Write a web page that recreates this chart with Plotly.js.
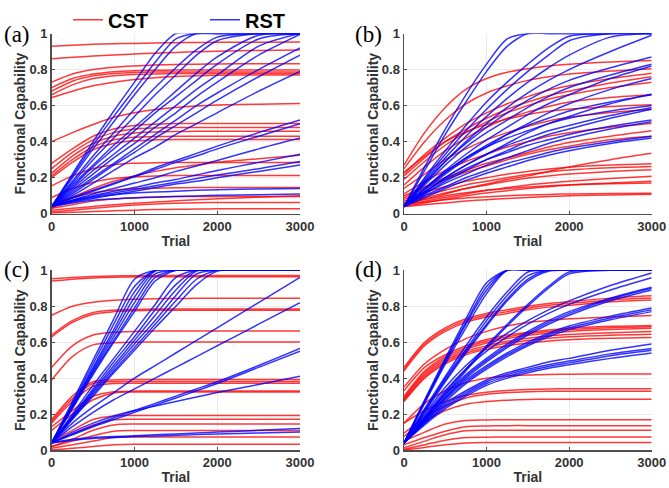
<!DOCTYPE html>
<html><head><meta charset="utf-8">
<script src="https://cdn.plot.ly/plotly-3.0.1.min.js"></script>
<style>html,body{margin:0;padding:0;background:#fff}#plot{width:669px;height:488px}</style>
</head><body><div id="plot"></div>
<script>
// Trial sample positions (shared by all curves)
var trials = [0,250,500,750,1000,1250,1500,1750,2000,2500,3000];
var xTickVals = [0,1000,2000,3000];
var xTickText = ['0','1000','2000','3000'];
var yTickVals = [0,0.2,0.4,0.6,0.8,1];
var yTickText = ['0','0.2','0.4','0.6','0.8','1'];
var panelLabels = ['(a)','(b)','(c)','(d)'];
var seriesNames = ['CST','RST'];

// Panel (a)
var aCST = [
[0.93,0.935,0.94,0.943,0.945,0.947,0.949,0.95,0.951,0.952,0.953],
[0.86,0.868,0.875,0.881,0.886,0.891,0.895,0.899,0.902,0.906,0.908],
[0.73,0.775,0.80,0.813,0.82,0.825,0.828,0.83,0.831,0.832,0.832],
[0.70,0.75,0.775,0.788,0.794,0.796,0.797,0.797,0.797,0.797,0.797],
[0.68,0.735,0.765,0.778,0.784,0.786,0.787,0.787,0.787,0.787,0.787],
[0.66,0.715,0.75,0.766,0.773,0.776,0.778,0.778,0.778,0.778,0.778],
[0.645,0.68,0.71,0.73,0.745,0.755,0.762,0.766,0.768,0.77,0.77],
[0.40,0.45,0.495,0.535,0.56,0.578,0.59,0.598,0.603,0.608,0.611],
[0.28,0.36,0.43,0.47,0.49,0.497,0.50,0.50,0.50,0.501,0.501],
[0.25,0.34,0.41,0.45,0.47,0.476,0.478,0.479,0.479,0.479,0.479],
[0.225,0.32,0.39,0.43,0.448,0.454,0.456,0.457,0.457,0.457,0.457],
[0.21,0.30,0.37,0.41,0.425,0.428,0.43,0.43,0.43,0.43,0.43],
[0.20,0.285,0.355,0.39,0.405,0.41,0.412,0.412,0.412,0.412,0.412],
[0.155,0.21,0.25,0.272,0.28,0.283,0.284,0.284,0.284,0.284,0.284],
[0.09,0.14,0.175,0.195,0.205,0.21,0.212,0.212,0.212,0.212,0.212],
[0.05,0.09,0.115,0.13,0.138,0.142,0.144,0.145,0.145,0.145,0.145],
[0.03,0.09,0.14,0.18,0.21,0.235,0.255,0.27,0.285,0.305,0.325],
[0.03,0.05,0.07,0.082,0.089,0.093,0.095,0.096,0.096,0.096,0.096],
[0.02,0.03,0.04,0.05,0.058,0.065,0.072,0.078,0.083,0.092,0.1],
[0.01,0.02,0.03,0.04,0.048,0.054,0.058,0.061,0.062,0.063,0.063],
[0.004,0.008,0.012,0.016,0.02,0.023,0.025,0.026,0.027,0.027,0.027]
];
var aRST = [
[0.04,0.22,0.40,0.57,0.73,0.89,1,1,1,1,1],
[0.04,0.21,0.38,0.54,0.69,0.84,0.97,1,1,1,1],
[0.04,0.20,0.36,0.51,0.66,0.80,0.93,1,1,1,1],
[0.04,0.18,0.32,0.45,0.58,0.70,0.81,0.91,0.98,1,1],
[0.04,0.17,0.30,0.42,0.54,0.66,0.77,0.88,0.96,1,1],
[0.04,0.16,0.27,0.38,0.48,0.58,0.68,0.78,0.87,0.99,1],
[0.04,0.15,0.26,0.36,0.46,0.56,0.65,0.74,0.83,0.97,1],
[0.04,0.14,0.24,0.33,0.42,0.51,0.60,0.69,0.77,0.93,1],
[0.04,0.13,0.22,0.31,0.39,0.48,0.56,0.65,0.73,0.88,0.995],
[0.04,0.12,0.20,0.28,0.36,0.44,0.52,0.60,0.67,0.80,0.92],
[0.04,0.11,0.19,0.27,0.34,0.42,0.49,0.56,0.63,0.76,0.88],
[0.04,0.10,0.17,0.24,0.31,0.37,0.44,0.50,0.56,0.68,0.79],
[0.04,0.09,0.13,0.17,0.21,0.255,0.295,0.335,0.375,0.45,0.52],
[0.04,0.085,0.125,0.165,0.205,0.245,0.285,0.32,0.36,0.43,0.50],
[0.04,0.075,0.11,0.14,0.17,0.20,0.235,0.265,0.295,0.36,0.42],
[0.04,0.075,0.10,0.125,0.145,0.17,0.19,0.215,0.24,0.285,0.33],
[0.04,0.07,0.095,0.115,0.135,0.155,0.175,0.195,0.215,0.25,0.29],
[0.04,0.065,0.085,0.105,0.125,0.145,0.165,0.18,0.20,0.235,0.27],
[0.04,0.07,0.09,0.105,0.115,0.12,0.125,0.13,0.133,0.137,0.14],
[0.04,0.06,0.075,0.083,0.088,0.092,0.096,0.099,0.102,0.106,0.11]
];

// Panel (b)
var bCST = [
[0.27,0.45,0.59,0.69,0.75,0.785,0.805,0.82,0.83,0.842,0.85],
[0.25,0.40,0.52,0.61,0.67,0.71,0.74,0.76,0.775,0.792,0.805],
[0.22,0.33,0.42,0.50,0.56,0.61,0.65,0.685,0.71,0.75,0.78],
[0.21,0.31,0.40,0.47,0.53,0.58,0.62,0.655,0.68,0.725,0.76],
[0.19,0.29,0.38,0.45,0.51,0.56,0.60,0.635,0.66,0.70,0.73],
[0.16,0.26,0.35,0.42,0.48,0.53,0.565,0.595,0.62,0.645,0.66],
[0.23,0.32,0.40,0.455,0.495,0.525,0.55,0.568,0.58,0.595,0.605],
[0.14,0.22,0.30,0.36,0.41,0.45,0.485,0.515,0.535,0.562,0.58],
[0.11,0.18,0.24,0.29,0.33,0.37,0.40,0.43,0.45,0.48,0.50],
[0.10,0.15,0.20,0.24,0.28,0.31,0.34,0.37,0.395,0.43,0.46],
[0.09,0.14,0.19,0.23,0.265,0.30,0.33,0.355,0.375,0.41,0.43],
[0.07,0.09,0.115,0.14,0.165,0.19,0.21,0.235,0.26,0.30,0.335],
[0.08,0.12,0.15,0.18,0.20,0.22,0.235,0.248,0.258,0.27,0.277],
[0.06,0.10,0.13,0.16,0.18,0.20,0.218,0.232,0.243,0.255,0.262],
[0.05,0.08,0.11,0.14,0.16,0.18,0.198,0.21,0.22,0.235,0.244],
[0.05,0.07,0.09,0.11,0.13,0.145,0.16,0.17,0.18,0.195,0.208],
[0.04,0.06,0.08,0.10,0.115,0.128,0.14,0.15,0.16,0.17,0.18],
[0.06,0.08,0.10,0.117,0.13,0.14,0.148,0.155,0.16,0.166,0.17],
[0.05,0.065,0.077,0.087,0.094,0.1,0.104,0.107,0.11,0.112,0.114],
[0.04,0.05,0.06,0.07,0.078,0.085,0.09,0.095,0.1,0.104,0.108]
];
var bRST = [
[0.04,0.26,0.47,0.66,0.83,0.97,1,1,1,1,1],
[0.04,0.24,0.44,0.62,0.79,0.93,1,1,1,1,1],
[0.04,0.20,0.35,0.49,0.62,0.73,0.83,0.92,0.985,1,1],
[0.04,0.19,0.33,0.46,0.58,0.69,0.79,0.88,0.96,1,1],
[0.04,0.18,0.31,0.43,0.54,0.64,0.73,0.81,0.88,0.98,1],
[0.04,0.17,0.29,0.40,0.50,0.59,0.67,0.74,0.80,0.90,0.99],
[0.04,0.17,0.29,0.39,0.48,0.56,0.63,0.69,0.74,0.81,0.87],
[0.04,0.16,0.27,0.37,0.45,0.52,0.59,0.65,0.70,0.77,0.83],
[0.04,0.14,0.24,0.33,0.41,0.48,0.55,0.61,0.66,0.75,0.82],
[0.04,0.13,0.22,0.30,0.37,0.44,0.50,0.56,0.61,0.69,0.75],
[0.04,0.14,0.23,0.31,0.38,0.44,0.49,0.53,0.57,0.62,0.66],
[0.04,0.12,0.20,0.27,0.33,0.39,0.45,0.50,0.54,0.61,0.665],
[0.04,0.14,0.23,0.31,0.37,0.42,0.46,0.50,0.53,0.57,0.60],
[0.04,0.12,0.20,0.27,0.33,0.38,0.42,0.46,0.49,0.545,0.59],
[0.04,0.11,0.18,0.24,0.30,0.35,0.40,0.44,0.47,0.53,0.58],
[0.04,0.12,0.19,0.25,0.30,0.34,0.38,0.41,0.44,0.485,0.52],
[0.04,0.11,0.17,0.22,0.27,0.31,0.35,0.39,0.42,0.47,0.51],
[0.04,0.10,0.15,0.20,0.24,0.28,0.31,0.34,0.365,0.40,0.43],
[0.04,0.09,0.14,0.185,0.225,0.26,0.295,0.325,0.35,0.39,0.42]
];

// Panel (c)
var cCST = [
[0.953,0.96,0.965,0.968,0.97,0.971,0.971,0.971,0.971,0.971,0.971],
[0.94,0.95,0.957,0.961,0.963,0.964,0.964,0.964,0.964,0.964,0.964],
[0.75,0.80,0.822,0.833,0.839,0.842,0.843,0.844,0.844,0.844,0.844],
[0.64,0.72,0.765,0.778,0.782,0.784,0.784,0.784,0.784,0.784,0.784],
[0.63,0.71,0.755,0.77,0.775,0.777,0.777,0.777,0.777,0.777,0.777],
[0.46,0.58,0.64,0.655,0.66,0.662,0.662,0.662,0.662,0.662,0.662],
[0.39,0.52,0.585,0.597,0.60,0.601,0.601,0.601,0.601,0.601,0.601],
[0.17,0.30,0.38,0.39,0.392,0.392,0.392,0.392,0.392,0.392,0.392],
[0.16,0.285,0.37,0.38,0.381,0.381,0.381,0.381,0.381,0.381,0.381],
[0.15,0.27,0.355,0.37,0.372,0.372,0.372,0.372,0.372,0.372,0.372],
[0.13,0.22,0.30,0.325,0.328,0.328,0.328,0.328,0.328,0.328,0.328],
[0.11,0.20,0.28,0.318,0.323,0.323,0.323,0.323,0.323,0.323,0.323],
[0.05,0.11,0.17,0.19,0.192,0.192,0.192,0.192,0.192,0.192,0.192],
[0.04,0.09,0.14,0.168,0.172,0.172,0.172,0.172,0.172,0.172,0.172],
[0.02,0.06,0.11,0.14,0.145,0.145,0.145,0.145,0.145,0.145,0.145],
[0.02,0.05,0.08,0.105,0.109,0.109,0.109,0.109,0.109,0.109,0.109],
[0.01,0.03,0.05,0.07,0.073,0.073,0.073,0.073,0.073,0.073,0.073],
[0.0,0.01,0.02,0.03,0.033,0.033,0.033,0.033,0.033,0.033,0.033]
];
var cRST = [
[0.04,0.27,0.50,0.73,0.95,1,1,1,1,1,1],
[0.04,0.26,0.48,0.70,0.91,1,1,1,1,1,1],
[0.04,0.25,0.46,0.67,0.88,1,1,1,1,1,1],
[0.04,0.245,0.45,0.65,0.85,0.995,1,1,1,1,1],
[0.04,0.24,0.44,0.63,0.82,0.98,1,1,1,1,1],
[0.04,0.235,0.43,0.61,0.79,0.96,1,1,1,1,1],
[0.04,0.23,0.42,0.60,0.77,0.94,1,1,1,1,1],
[0.04,0.20,0.36,0.51,0.66,0.81,0.96,1,1,1,1],
[0.04,0.19,0.34,0.49,0.63,0.78,0.92,1,1,1,1],
[0.04,0.185,0.33,0.47,0.61,0.75,0.89,0.995,1,1,1],
[0.04,0.18,0.32,0.455,0.59,0.72,0.86,0.98,1,1,1],
[0.04,0.175,0.31,0.44,0.57,0.70,0.83,0.95,1,1,1],
[0.04,0.17,0.30,0.43,0.555,0.68,0.80,0.92,0.995,1,1],
[0.04,0.15,0.24,0.32,0.40,0.47,0.54,0.61,0.68,0.82,0.96],
[0.04,0.13,0.21,0.28,0.34,0.40,0.46,0.52,0.58,0.70,0.82],
[0.04,0.09,0.135,0.18,0.22,0.26,0.30,0.34,0.38,0.47,0.565],
[0.04,0.085,0.13,0.17,0.21,0.25,0.29,0.33,0.37,0.46,0.55],
[0.04,0.10,0.15,0.19,0.22,0.245,0.27,0.295,0.32,0.365,0.41],
[0.04,0.06,0.07,0.075,0.08,0.085,0.09,0.095,0.10,0.11,0.12],
[0.04,0.055,0.065,0.07,0.075,0.078,0.082,0.086,0.09,0.095,0.10]
];

// Panel (d)
var dCST = [
[0.46,0.60,0.68,0.73,0.76,0.78,0.80,0.815,0.825,0.845,0.858],
[0.45,0.59,0.67,0.72,0.75,0.77,0.79,0.805,0.815,0.835,0.846],
[0.44,0.58,0.66,0.71,0.74,0.76,0.78,0.795,0.805,0.825,0.835],
[0.35,0.48,0.56,0.62,0.66,0.69,0.71,0.72,0.73,0.74,0.748],
[0.33,0.46,0.53,0.58,0.615,0.64,0.655,0.668,0.678,0.688,0.693],
[0.30,0.44,0.52,0.57,0.605,0.63,0.648,0.66,0.67,0.68,0.686],
[0.29,0.43,0.51,0.56,0.595,0.62,0.638,0.65,0.66,0.67,0.677],
[0.285,0.42,0.50,0.55,0.58,0.605,0.622,0.635,0.643,0.653,0.659],
[0.276,0.41,0.49,0.54,0.57,0.595,0.61,0.622,0.63,0.639,0.644],
[0.27,0.40,0.48,0.53,0.56,0.58,0.595,0.607,0.614,0.622,0.626],
[0.15,0.26,0.33,0.375,0.40,0.412,0.418,0.421,0.422,0.423,0.423],
[0.15,0.22,0.27,0.305,0.322,0.332,0.337,0.34,0.341,0.341,0.341],
[0.094,0.18,0.245,0.29,0.31,0.32,0.325,0.327,0.327,0.327,0.327],
[0.076,0.16,0.22,0.255,0.27,0.277,0.281,0.283,0.283,0.283,0.283],
[0.05,0.10,0.145,0.165,0.168,0.169,0.169,0.169,0.169,0.169,0.169],
[0.03,0.07,0.105,0.13,0.134,0.136,0.136,0.136,0.136,0.136,0.136],
[0.013,0.05,0.085,0.107,0.11,0.111,0.111,0.111,0.111,0.111,0.111],
[0.004,0.03,0.055,0.07,0.072,0.073,0.073,0.073,0.073,0.073,0.073],
[0.0,0.015,0.03,0.04,0.042,0.042,0.042,0.042,0.042,0.042,0.042]
];
var dRST = [
[0.04,0.28,0.51,0.73,0.93,1,1,1,1,1,1],
[0.04,0.27,0.50,0.71,0.91,1,1,1,1,1,1],
[0.04,0.27,0.49,0.70,0.89,1,1,1,1,1,1],
[0.04,0.26,0.48,0.68,0.87,1,1,1,1,1,1],
[0.04,0.23,0.41,0.58,0.74,0.88,0.99,1,1,1,1],
[0.04,0.22,0.40,0.56,0.72,0.86,0.97,1,1,1,1],
[0.04,0.22,0.39,0.55,0.70,0.84,0.95,1,1,1,1],
[0.04,0.21,0.38,0.54,0.69,0.83,0.94,0.995,1,1,1],
[0.04,0.18,0.32,0.45,0.58,0.70,0.81,0.91,0.99,1,1],
[0.04,0.18,0.31,0.44,0.57,0.69,0.80,0.90,0.98,1,1],
[0.04,0.20,0.35,0.47,0.57,0.65,0.72,0.78,0.83,0.915,0.985],
[0.04,0.19,0.33,0.45,0.55,0.63,0.70,0.76,0.81,0.89,0.958],
[0.04,0.18,0.31,0.42,0.51,0.59,0.66,0.72,0.77,0.845,0.905],
[0.04,0.17,0.30,0.41,0.50,0.58,0.65,0.71,0.76,0.84,0.90],
[0.04,0.17,0.29,0.40,0.49,0.57,0.64,0.70,0.75,0.83,0.89],
[0.04,0.17,0.29,0.39,0.47,0.54,0.60,0.65,0.69,0.745,0.79],
[0.04,0.16,0.28,0.38,0.46,0.53,0.59,0.64,0.68,0.735,0.78],
[0.04,0.16,0.27,0.37,0.45,0.52,0.58,0.63,0.67,0.725,0.77],
[0.04,0.16,0.26,0.33,0.39,0.43,0.46,0.49,0.51,0.555,0.59],
[0.04,0.15,0.25,0.32,0.38,0.42,0.45,0.475,0.495,0.535,0.565],
[0.04,0.15,0.24,0.31,0.37,0.41,0.44,0.465,0.485,0.525,0.555],
[0.04,0.14,0.23,0.30,0.36,0.40,0.43,0.455,0.475,0.51,0.54]
];

var panels = [
  {cst:aCST, rst:aRST},
  {cst:bCST, rst:bRST},
  {cst:cCST, rst:cRST},
  {cst:dCST, rst:dRST}
];

var W = 669, H = 488;
var RED = 'rgba(255,0,0,0.78)', BLUE = 'rgba(0,0,255,0.8)';
var traces = [];
var legendDone = [false,false];
panels.forEach(function(p, i){
  var ax = i === 0 ? '' : String(i+1);
  [[p.cst, RED, 0],[p.rst, BLUE, 1]].forEach(function(grp){
    grp[0].forEach(function(ys){
      var show = !legendDone[grp[2]];
      legendDone[grp[2]] = true;
      traces.push({
        type:'scatter', mode:'lines', x:trials, y:ys,
        xaxis:'x'+ax, yaxis:'y'+ax,
        line:{color:grp[1], width:1.5, shape:'spline', smoothing:0.8},
        name:seriesNames[grp[2]], showlegend:show, hoverinfo:'skip'
      });
    });
  });
});

// plot areas in pixels [left,right,top,bottom]
var boxes = [
  [51.7,300,24,208],
  [404,651.7,24,208],
  [51.7,300,265.7,449.3],
  [404,651.7,265.7,449.3]
];
var fontFam = 'Liberation Sans, Arial, sans-serif';
var layout = {
  width:W, height:H, margin:{l:0,r:0,t:0,b:0},
  paper_bgcolor:'#fff', plot_bgcolor:'#fff',
  showlegend:true,
  legend:{orientation:'h', x:68/W, xanchor:'left', y:1-10/H, yanchor:'middle',
    font:{family:fontFam, size:20, weight:'bold', color:'#000'},
    entrywidth:92, entrywidthmode:'pixels', bgcolor:'rgba(0,0,0,0)', itemwidth:30},
  annotations:[]
};
var labelPos = [[17,25],[368,25],[17,265],[368,265]];
boxes.forEach(function(b, i){
  var ax = i === 0 ? '' : String(i+1);
  var common = {
    showline:true, linecolor:'#4d4d4d', linewidth:1.5,
    showgrid:true, gridcolor:'#ebebeb', gridwidth:1,
    zeroline:false, ticks:'inside', ticklen:3, tickcolor:'#4d4d4d',
    tickfont:{family:fontFam, size:13, weight:'bold', color:'#333'},
    fixedrange:true
  };
  layout['xaxis'+ax] = Object.assign({}, common, {
    domain:[b[0]/W, b[1]/W], range:[0,3000], anchor:'y'+ax,
    tickvals:xTickVals, ticktext:xTickText,
    title:{text:'Trial', font:{family:fontFam, size:14, weight:'bold', color:'#333'}, standoff:3}
  });
  layout['yaxis'+ax] = Object.assign({}, common, {
    domain:[1-b[3]/H, 1-b[2]/H], range:[0,1], anchor:'x'+ax,
    tickvals:yTickVals, ticktext:yTickText,
    title:{text:'Functional Capability', font:{family:fontFam, size:14, weight:'bold', color:'#333'}, standoff:0}
  });
  layout.annotations.push({
    xref:'paper', yref:'paper', x:labelPos[i][0]/W, y:1-labelPos[i][1]/H,
    xanchor:'center', yanchor:'middle', showarrow:false, text:panelLabels[i],
    font:{family:'Liberation Serif, Times New Roman, serif', size:23, color:'#000'}
  });
});

Plotly.newPlot('plot', traces, layout, {staticPlot:true, displayModeBar:false});
</script>
</body></html>
